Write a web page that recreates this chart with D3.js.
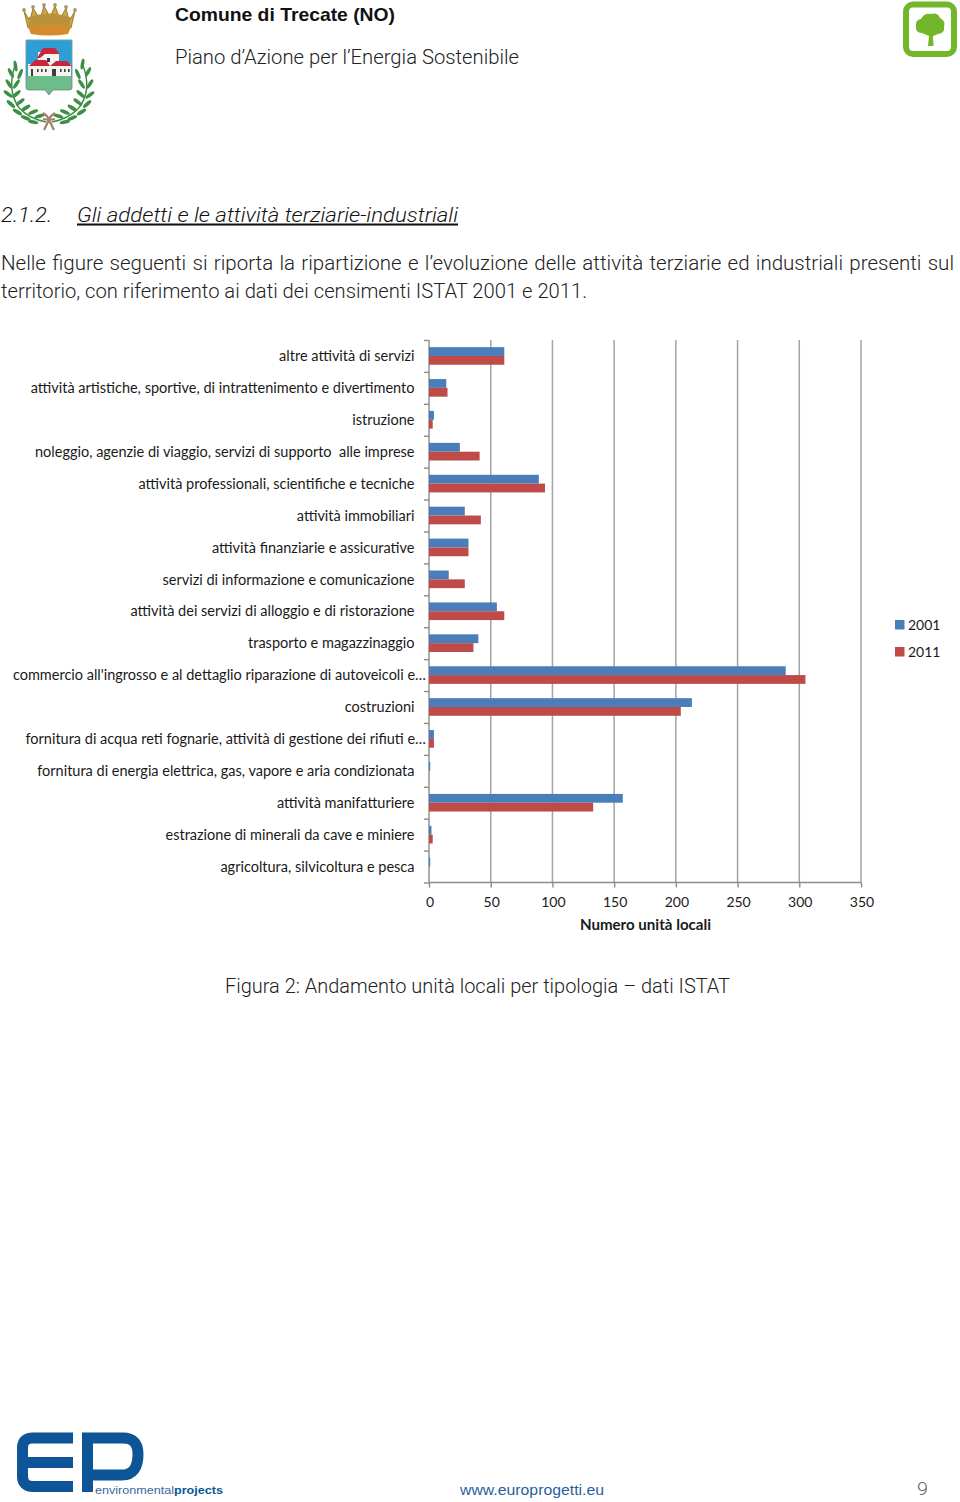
<!DOCTYPE html>
<html lang="it"><head><meta charset="utf-8">
<script src="https://cdn.jsdelivr.net/npm/d3@7"></script>
<style>html,body{margin:0;background:#fff}svg{display:block}</style></head>
<body><svg id="page" width="960" height="1502" viewBox="0 0 960 1502">
<defs><filter id="soft" x="-25%" y="-25%" width="150%" height="150%"><feGaussianBlur stdDeviation="0.45"/></filter></defs></svg>
<script>
const categories = ["altre attività di servizi","attività artistiche, sportive, di intrattenimento e divertimento","istruzione","noleggio, agenzie di viaggio, servizi di supporto  alle imprese","attività professionali, scientifiche e tecniche","attività immobiliari","attività finanziarie e assicurative","servizi di informazione e comunicazione","attività dei servizi di alloggio e di ristorazione","trasporto e magazzinaggio","commercio all'ingrosso e al dettaglio riparazione di autoveicoli e…","costruzioni","fornitura di acqua reti fognarie, attività di gestione dei rifiuti e…","fornitura di energia elettrica, gas, vapore e aria condizionata","attività manifatturiere","estrazione di minerali da cave e miniere","agricoltura, silvicoltura e pesca"];
const values2001 = [61,14,4,25,89,29,32,16,55,40,289,213,4,1,157,2,1];
const values2011 = [61,15,3,41,94,42,32,29,61,36,305,204,4,0,133,3,0];
const seriesNames = ["2001","2011"];
const seriesColors = ["#4a7ebb","#be4b48"];
const xTicks = [0,50,100,150,200,250,300,350];
const xTitle = "Numero unità locali";
const caption = "Figura 2: Andamento unità locali per tipologia – dati ISTAT";

const svg = d3.select("#page");
const SANS = "'Liberation Sans',Arial,sans-serif", LIGHT="Roboto,'Liberation Sans',sans-serif", CAL = "Lato,sans-serif";
function fit(x,y,str,w,size,o={}){
  return svg.append("text").attr("x",x).attr("y",y).attr("font-family",o.f||SANS).attr("font-size",size)
    .attr("fill",o.c||"#333").attr("font-weight",o.w||400).attr("font-style",o.s||"normal")
    .attr("textLength",w).attr("lengthAdjust","spacingAndGlyphs").text(str);
}
const L={f:LIGHT,w:300,c:"#222"};
fit(175,20.5,"Comune di Trecate (NO)",220,19,{c:"#111",w:700});
fit(175,63.5,"Piano d’Azione per l’Energia Sostenibile",344,20,L);
fit(1,221.5,"2.1.2.",51,20,{...L,s:"italic",c:"#111"});
fit(77,221.5,"Gli addetti e le attività terziarie-industriali",381,20.5,{...L,s:"italic",c:"#111"}).attr("text-decoration","underline");
const l1 = svg.append("text").attr("x",1).attr("y",270).attr("font-family",LIGHT).attr("font-weight",300).attr("font-size",20.5).attr("fill","#222")
  .text("Nelle figure seguenti si riporta la ripartizione e l’evoluzione delle attività terziarie ed industriali presenti sul");
const gaps = (l1.text().match(/ /g)||[]).length;
l1.attr("word-spacing",(953-l1.node().getComputedTextLength())/gaps);
fit(1,298,"territorio, con riferimento ai dati dei censimenti ISTAT 2001 e 2011.",586,20.5,L);
fit(225,993,caption,505,21,L);
fit(460,1495,"www.europrogetti.eu",144,15.5,{c:"#2a5f9e"});
fit(917,1495,"9",11,18,{f:LIGHT,w:300,c:"#666"});

// chart
const margin={left:429,top:340,right:861,bottom:882.5};
const x=d3.scaleLinear().domain([0,350]).range([margin.left,margin.right]);
const y=d3.scaleBand().domain(categories).range([margin.top,margin.bottom]);
const sub=d3.scaleBand().domain(seriesNames).range([0,y.bandwidth()]).paddingOuter(0.81).paddingInner(0);
const gridCol="#a3a3a3", axisCol="#8c8c8c";
svg.append("g").selectAll("line").data(xTicks.slice(1)).join("line")
  .attr("x1",d=>x(d)).attr("x2",d=>x(d)).attr("y1",margin.top).attr("y2",margin.bottom)
  .attr("stroke",gridCol).attr("stroke-width",1.5);
const yTickScale=d3.scaleLinear().domain([0,categories.length]).range([margin.top,margin.bottom]);
const yAxis=svg.append("g").attr("transform",`translate(${x(0)},0)`)
  .call(d3.axisLeft(yTickScale).tickValues(d3.range(categories.length+1)).tickSize(5).tickFormat(""));
yAxis.selectAll("line,path").attr("stroke",axisCol).attr("stroke-width",1.4);
yAxis.select("path").attr("d",`M0,${margin.top}V${margin.bottom}`);
seriesNames.forEach((s,si)=>{
  const vals=si?values2011:values2001;
  svg.append("g").selectAll("rect").data(categories).join("rect")
    .attr("x",x(0)).attr("y",d=>y(d)+sub(s)).attr("height",sub.bandwidth())
    .attr("width",(d,i)=>x(vals[i])-x(0)).attr("fill",seriesColors[si]);
});
svg.append("g").selectAll("text").data(categories).join("text")
  .attr("x",d=>d.endsWith("…")?426:414.5).attr("y",d=>y(d)+y.bandwidth()/2+5.2)
  .attr("text-anchor","end").attr("font-family",CAL).attr("font-size",14.5).attr("fill","#1a1a1a").style("white-space","pre").text(d=>d);
const xAxis=svg.append("g").attr("transform",`translate(0,${margin.bottom})`)
  .call(d3.axisBottom(x).tickValues(xTicks).tickSize(5).tickPadding(10).tickFormat(d3.format("d")));
xAxis.select("path").attr("d",`M${x(0)},0H${x(350)}`).attr("stroke",axisCol).attr("stroke-width",1.4);
xAxis.selectAll("line").attr("stroke",axisCol).attr("stroke-width",1.4);
xAxis.selectAll("text").attr("font-family",CAL).attr("font-size",14).attr("fill","#1a1a1a").attr("dx",0.5);
svg.append("text").attr("x",645.5).attr("y",930).attr("text-anchor","middle").attr("font-family",CAL)
  .attr("font-weight",700).attr("font-size",15.1).attr("fill","#1a1a1a").text(xTitle);
const lg=d3.scalePoint().domain(seriesNames).range([624.5,651.5]);
seriesNames.forEach((s,i)=>{
  svg.append("rect").attr("x",895).attr("y",lg(s)-4.5).attr("width",9.5).attr("height",9.5).attr("fill",seriesColors[i]);
  svg.append("text").attr("x",908).attr("y",lg(s)+5.2).attr("font-family",CAL).attr("font-size",14).attr("fill","#1a1a1a").text(s);
});

// --- decorative logos ---
const crest=svg.append("g").attr("filter","url(#soft)");
crest.append("path").attr("d","M24,11 L30,21 L33,8 L40,19 L44,6 L50,17 L55,6 L60,19 L66,8 L69,21 L75,11 L71,28 Q50,24 28,28 Z").attr("fill","#cda544").attr("stroke","#93742c").attr("stroke-width",.9);
crest.append("path").attr("d","M29,17 Q50,10 70,17 L70,27 Q50,22 29,27 Z").attr("fill","#b9923a");
crest.append("path").attr("d","M28,27 Q50,22 71,27 L68,34 Q50,37 31,34 Z").attr("fill","#d58a2d");
crest.selectAll("circle.k").data([[24,10],[33,7],[44,5],[55,5],[66,7],[75,10]]).join("circle").attr("cx",d=>d[0]).attr("cy",d=>d[1]).attr("r",1.9).attr("fill","#a39a72");
crest.append("path").attr("d","M26,40 H72 V88 Q72,90 69,90 H53 L49,95 L45,90 H29 Q26,90 26,88 Z").attr("fill","#6dbd8a").attr("stroke","#71868f").attr("stroke-width",.8);
crest.append("path").attr("d","M26.4,40.4 H71.6 V76 H26.4 Z").attr("fill","#2f9fd6");
crest.append("path").attr("d","M28,76 V64 H38 V52 H59 V64 H71 V76 Z").attr("fill","#f6f3ee");
crest.append("path").attr("d","M43,48 H55 L60,54 H45 L40,58 H37 Z M29,66 L35,60 H46 L50,66 Z M50,66 L56,61 H67 L72,66 Z").attr("fill","#c9283c");
crest.selectAll("rect.w").data([[31,69,2,7],[37,69,1.6,3],[41,69,1.6,3],[45,69,1.6,3],[52,69,4,7],[60,69,1.6,3],[64,69,1.6,3],[68,69,1.6,3],[47,58,3,4]]).join("rect").attr("x",d=>d[0]).attr("y",d=>d[1]).attr("width",d=>d[2]).attr("height",d=>d[3]).attr("fill","#3c3c3c");
const wreath=crest.append("g").attr("transform","translate(49,0) scale(.93,1) translate(-49,0)");
const wreathL="M13,64 Q3,90 17,108 Q28,119 46,122";
const wreathR="M85,64 Q96,90 81,108 Q70,119 52,122";
[wreathL,wreathR].forEach(d=>wreath.append("path").attr("d",d).attr("fill","none").attr("stroke","#3c8f45").attr("stroke-width",1.6));
const leaves=[[13,66,-10],[18,74,25],[8,73,-30],[14,84,35],[6,84,-35],[14,94,50],[5,94,-55],[18,102,55],[8,104,-50],[24,108,60],[15,112,-60],[32,112,70],[24,118,-70],[39,116,75],[32,122,-80],
 [85,64,10],[80,74,-25],[91,72,30],[84,84,-35],[93,84,35],[83,94,-50],[93,95,55],[80,102,-55],[90,104,50],[74,108,-60],[84,112,60],[66,112,-70],[74,118,70],[59,116,-75],[66,122,80]];
wreath.selectAll("ellipse").data(leaves).join("ellipse").attr("cx",d=>d[0]).attr("cy",d=>d[1]).attr("rx",1.9).attr("ry",5.6)
  .attr("transform",d=>`rotate(${d[2]} ${d[0]} ${d[1]})`).attr("fill","#3c8f45");
crest.append("path").attr("d","M43,113 Q48,116 49,120 Q50,116 55,113 M43,119 L49,120 L55,119 M44,130 L49,120 L54,130").attr("fill","none").attr("stroke","#a5806a").attr("stroke-width",2.2);
const tree=svg.append("g").attr("filter","url(#soft)");
tree.append("rect").attr("x",906).attr("y",4.5).attr("width",48).attr("height",49.5).attr("rx",7).attr("fill","#fff").attr("stroke","#72b62c").attr("stroke-width",6);
tree.append("path").attr("d","M928,46 L929,36 L922,33 Q915,33 916,26 Q915,20 921,19 Q924,13 931,14 Q938,12 940,18 Q946,21 944,27 Q945,33 938,34 L933,36 L933.5,46 Z").attr("fill","#72b62c");
const ep=svg.append("g").attr("fill","none").attr("stroke","#0b5596").attr("filter","url(#soft)");
ep.append("path").attr("d","M73,1438 H33 Q22.5,1438 22.5,1448 V1476 Q22.5,1486.5 33,1486.5 H73 M22.5,1462.5 H73").attr("stroke-width",11);
ep.append("path").attr("d","M87.5,1492 V1438 H123 Q138,1438 138,1454 Q138,1475 122,1475 H93").attr("stroke-width",11);
svg.append("text").attr("x",95).attr("y",1493.5).attr("font-family",SANS).attr("font-size",11.5).attr("fill","#3a6a9a")
  .attr("textLength",128).attr("lengthAdjust","spacingAndGlyphs").html('environmental<tspan font-weight="700" fill="#0b5596">projects</tspan>');
</script></body></html>
